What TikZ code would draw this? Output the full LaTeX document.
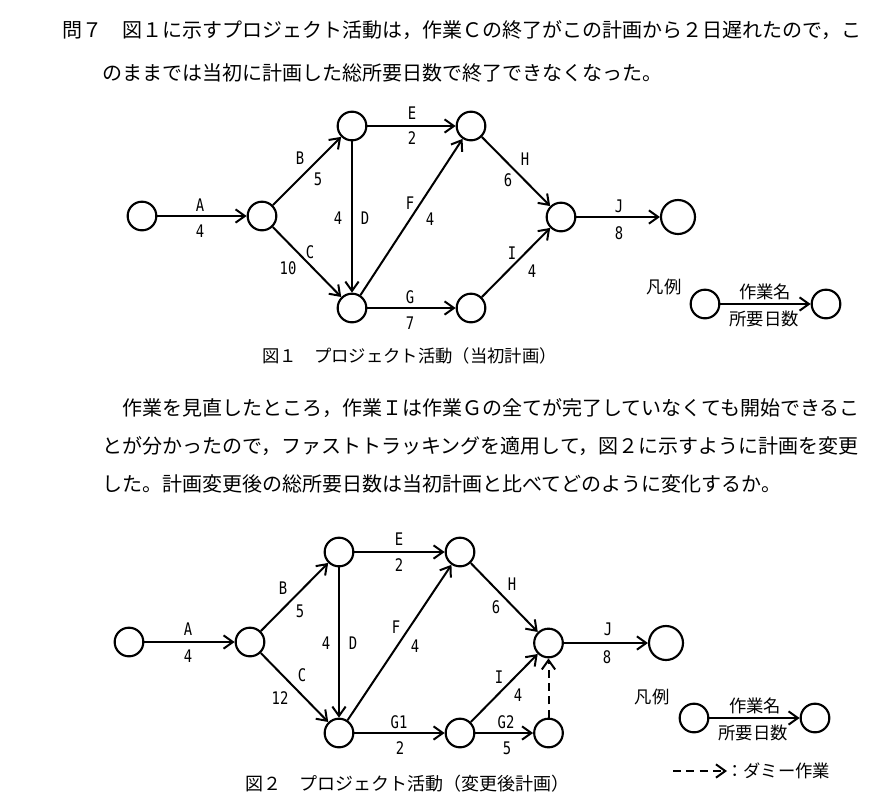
\documentclass[tikz,border=0pt]{standalone}
\usepackage{fontspec}
\newfontfamily\jp{Noto Sans CJK JP}
\newfontfamily\lab[FakeStretch=0.8]{DejaVu Sans Mono}
\usetikzlibrary{arrows.meta}
\begin{document}
\begin{tikzpicture}[x=0.75pt,y=-0.75pt,
  ev/.style={circle,draw,line width=1.6pt,minimum size=21.5pt,inner sep=0pt},
  evend/.style={ev,minimum size=25.5pt},
  act/.style={line width=1.5pt,-{Straight Barb[length=7pt,width=10pt]}},
  dummy/.style={act,dash pattern=on 6pt off 4pt},
  lbl/.style={font=\lab\fontsize{13pt}{15pt}\selectfont,inner sep=0pt},
  body/.style={font=\jp\fontsize{15pt}{18pt}\selectfont,anchor=west,inner sep=0pt},
  figcap/.style={font=\jp\fontsize{13pt}{16pt}\selectfont,anchor=west,inner sep=0pt},
  leg/.style={font=\jp\fontsize{13pt}{16pt}\selectfont,inner sep=0pt}]
\useasboundingbox (0,0) rectangle (878,811);

% ---- text ----
\node[body] (p1a) at (62,30) {問７　図１に示すプロジェクト活動は，作業Ｃの終了がこの計画から２日遅れたので，こ};
\node[body] (p1b) at (102,73) {のままでは当初に計画した総所要日数で終了できなくなった。};
\node[body] (p2a) at (122,408) {作業を見直したところ，作業Ｉは作業Ｇの全てが完了していなくても開始できるこ};
\node[body] (p2b) at (102,446) {とが分かったので，ファストトラッキングを適用して，図２に示すように計画を変更};
\node[body] (p2c) at (102,484) {した。計画変更後の総所要日数は当初計画と比べてどのように変化するか。};

% ---- Figure 1 ----
\node[ev] (a1) at (142,216) {};
\node[ev] (b1) at (262,216) {};
\node[ev] (c1) at (352,126) {};
\node[ev] (d1) at (352,308) {};
\node[ev] (e1) at (471,126) {};
\node[ev] (f1) at (471,308) {};
\node[ev] (g1) at (561,217) {};
\node[evend] (h1) at (678,217) {};

\draw[act] (a1) -- (b1);
\draw[act] (b1) -- (c1);
\draw[act] (b1) -- (d1);
\draw[act] (c1) -- (d1);
\draw[act] (c1) -- (e1);
\draw[act] (d1) -- (e1);
\draw[act] (d1) -- (f1);
\draw[act] (e1) -- (g1);
\draw[act] (f1) -- (g1);
\draw[act] (g1) -- (h1);

\node[lbl] (lA1) at (200,205) {A};
\node[lbl] (nA1) at (200,231) {4};
\node[lbl] (lB1) at (300,158) {B};
\node[lbl] (nB1) at (318,179) {5};
\node[lbl] (lC1) at (310,252) {C};
\node[lbl] (nC1) at (288,268) {10};
\node[lbl] (nD1) at (338,218) {4};
\node[lbl] (lD1) at (365,218) {D};
\node[lbl] (lE1) at (412,113) {E};
\node[lbl] (nE1) at (412,138) {2};
\node[lbl] (lF1) at (410,203) {F};
\node[lbl] (nF1) at (430,219) {4};
\node[lbl] (lG1) at (410,297) {G};
\node[lbl] (nG1) at (410,323) {7};
\node[lbl] (lH1) at (525,159) {H};
\node[lbl] (nH1) at (508,180) {6};
\node[lbl] (lI1) at (512,253) {I};
\node[lbl] (nI1) at (532,271) {4};
\node[lbl] (lJ1) at (619,206) {J};
\node[lbl] (nJ1) at (619,233) {8};

% legend 1
\node[leg] (hanrei1) at (664,287) {凡例};
\node[ev] (la1) at (705,304) {};
\node[ev] (lb1) at (826,304) {};
\draw[act] (la1) -- (lb1);
\node[leg] (sn1) at (765,292) {作業名};
\node[leg] (sd1) at (764,319) {所要日数};

\node[figcap] (cap1) at (262,356) {図１　プロジェクト活動（当初計画）};

% ---- Figure 2 ----
\node[ev] (a2) at (129,642) {};
\node[ev] (b2) at (250,642) {};
\node[ev] (c2) at (339,552) {};
\node[ev] (d2) at (339,733) {};
\node[ev] (e2) at (460,552) {};
\node[ev] (f2) at (460,733) {};
\node[ev] (g2) at (548.5,643) {};
\node[evend] (h2) at (666,643) {};
\node[ev] (i2) at (548.5,733) {};

\draw[act] (a2) -- (b2);
\draw[act] (b2) -- (c2);
\draw[act] (b2) -- (d2);
\draw[act] (c2) -- (d2);
\draw[act] (c2) -- (e2);
\draw[act] (d2) -- (e2);
\draw[act] (d2) -- (f2);
\draw[act] (e2) -- (g2);
\draw[act] (f2) -- (g2);
\draw[act] (f2) -- (i2);
\draw[dummy] (i2) -- (g2);
\draw[act] (g2) -- (h2);

\node[lbl] (lA2) at (188,629) {A};
\node[lbl] (nA2) at (188,656) {4};
\node[lbl] (lB2) at (283,588) {B};
\node[lbl] (nB2) at (300,611) {5};
\node[lbl] (lC2) at (302,675) {C};
\node[lbl] (nC2) at (280,698) {12};
\node[lbl] (nD2) at (326,643) {4};
\node[lbl] (lD2) at (353,643) {D};
\node[lbl] (lE2) at (399,539) {E};
\node[lbl] (nE2) at (399,565) {2};
\node[lbl] (lF2) at (396,627) {F};
\node[lbl] (nF2) at (415,646) {4};
\node[lbl] (lG12) at (399,722) {G1};
\node[lbl] (nG12) at (400,748) {2};
\node[lbl] (lH2) at (512,584) {H};
\node[lbl] (nH2) at (496,607) {6};
\node[lbl] (lI2) at (499,677) {I};
\node[lbl] (nI2) at (518,695) {4};
\node[lbl] (lG22) at (506,722) {G2};
\node[lbl] (nG22) at (507,748) {5};
\node[lbl] (lJ2) at (608,629) {J};
\node[lbl] (nJ2) at (607,657) {8};

% legend 2
\node[leg] (hanrei2) at (652,697) {凡例};
\node[ev] (la2) at (694,718) {};
\node[ev] (lb2) at (815,718) {};
\draw[act] (la2) -- (lb2);
\node[leg] (sn2) at (755,706) {作業名};
\node[leg] (sd2) at (753,733) {所要日数};
\coordinate (dmA) at (673,771);
\coordinate (dmB) at (727,771);
\draw[dummy] (dmA) -- (dmB);
\node[figcap] (dmt) at (726,771) {：ダミー作業};

\node[figcap,font=\jp\fontsize{13.5pt}{16pt}\selectfont] (cap2) at (245,784) {図２　プロジェクト活動（変更後計画）};
\end{tikzpicture}
\end{document}
